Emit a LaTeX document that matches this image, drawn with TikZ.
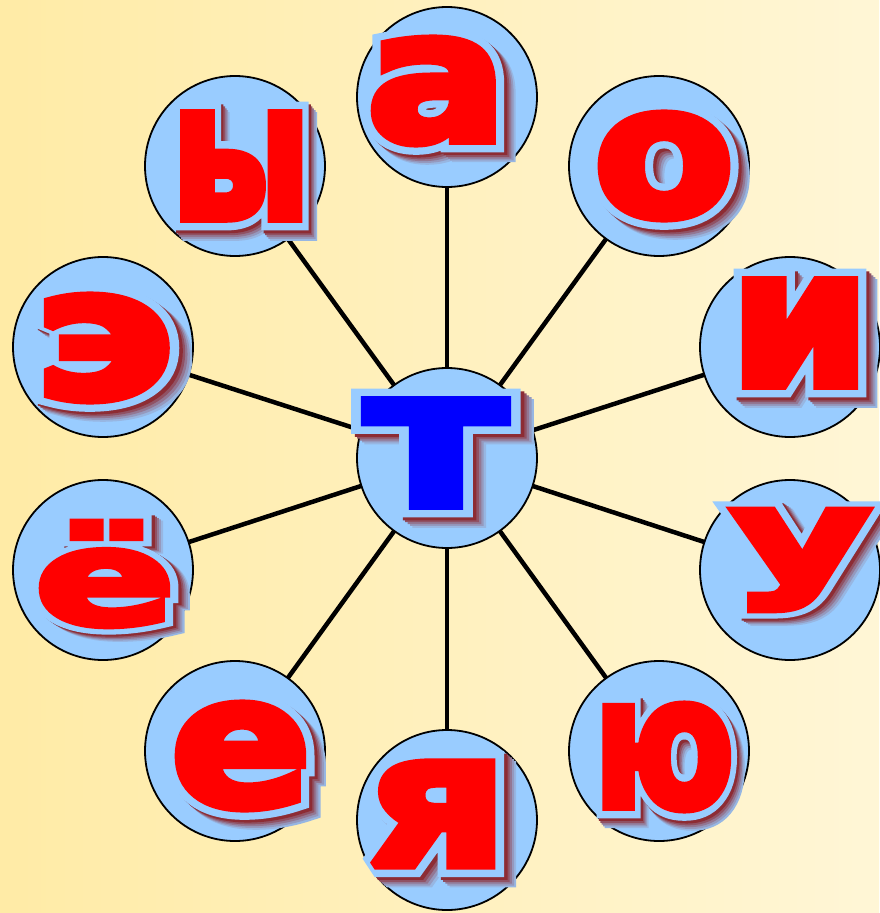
\documentclass[tikz,border=0pt]{standalone}
\usepackage{fontspec}
\usepackage{graphicx}
\newfontfamily\fRed[FakeBold=5]{DejaVu Sans Bold}
\newfontfamily\fOut[FakeBold=13]{DejaVu Sans Bold}
\definecolor{ballblue}{HTML}{99CCFF}
\definecolor{outl}{HTML}{99CCFF}
\definecolor{lred}{HTML}{FF0000}
\definecolor{lblue}{HTML}{0000FF}
\definecolor{shade0}{HTML}{8B1010}
\colorlet{sh1}{shade0!85!ballblue}
\colorlet{sh2}{shade0!65!ballblue}
\colorlet{sh3}{shade0!45!ballblue}
\colorlet{sh4}{shade0!27!ballblue}
\colorlet{sh5}{shade0!12!ballblue}
\definecolor{bgl}{HTML}{FFEBA6}
\definecolor{bgr}{HTML}{FFF6D6}
\newcommand\shlayer[3]{\rlap{\smash{\hspace{#1}\raisebox{-#1}{\fOut\color{#2}#3}}}}
\newcommand\Ltr[4]{%
  \resizebox*{#2}{#3}{\fontsize{200}{200}\selectfont
    \shlayer{11pt}{sh5}{#4}%
    \shlayer{9pt}{sh4}{#4}%
    \shlayer{7pt}{sh3}{#4}%
    \shlayer{5pt}{sh2}{#4}%
    \shlayer{3pt}{sh1}{#4}%
    \rlap{\smash{\fOut\color{outl}#4}}%
    {\fRed\color{#1}#4}}}
\tikzset{
  ball/.style={circle, draw=black, line width=1.8pt, fill=ballblue, minimum size=180pt, inner sep=0pt},
  spoke/.style={line width=4.5pt, draw=black},
  ltr/.style={inner sep=0pt, outer sep=0pt, line join=miter, miter limit=2}
}
\pgfdeclarelayer{back}
\pgfdeclarelayer{lines}
\pgfsetlayers{back,lines,main}
\begin{document}
\begin{tikzpicture}[x=1pt,y=-1pt]
\begin{pgfonlayer}{back}
\shade[left color=bgl, right color=bgr] (0,0) rectangle (879,913);
\end{pgfonlayer}
\useasboundingbox (0,0) rectangle (879,913);
\node[ball] (t)  at (447,458) {};
\node[ball] (a)  at (447,97) {};
\node[ball] (o)  at (659,166) {};
\node[ball] (i)  at (790,347) {};
\node[ball] (u)  at (790,570) {};
\node[ball] (yu) at (659,751) {};
\node[ball] (ya) at (447,820) {};
\node[ball] (e)  at (235,751) {};
\node[ball] (yo) at (103,570) {};
\node[ball] (ee) at (103,347) {};
\node[ball] (y)  at (235,166) {};
\begin{pgfonlayer}{lines}
\foreach \n in {a,o,i,u,yu,ya,e,yo,ee,y} \draw[spoke] (t.center) -- (\n.center);
\end{pgfonlayer}
\node[ltr] (lt)  at (436,453) {\Ltr{lblue}{140pt}{104pt}{т}};
\node[ltr] (la)  at (437,91)  {\Ltr{lred}{140pt}{104pt}{а}};
\node[ltr] (lo)  at (664,166) {\Ltr{lred}{140pt}{104pt}{о}};
\node[ltr] (li)  at (800,333) {\Ltr{lred}{140pt}{104pt}{и}};
\node[ltr] (lu)  at (801,560) {\Ltr{lred}{140pt}{100pt}{у}};
\node[ltr] (lyu) at (664,757) {\Ltr{lred}{140pt}{104pt}{ю}};
\node[ltr] (lya) at (438,814) {\Ltr{lred}{140pt}{102pt}{я}};
\node[ltr] (le)  at (241,756) {\Ltr{lred}{140pt}{104pt}{е}};
\node[ltr] (lyo) at (105,574) {\Ltr{lred}{140pt}{104pt}{ё}};
\node[ltr] (lee) at (104,348) {\Ltr{lred}{140pt}{104pt}{э}};
\node[ltr] (ly)  at (241,166) {\Ltr{lred}{140pt}{104pt}{ы}};
\end{tikzpicture}
\end{document}
